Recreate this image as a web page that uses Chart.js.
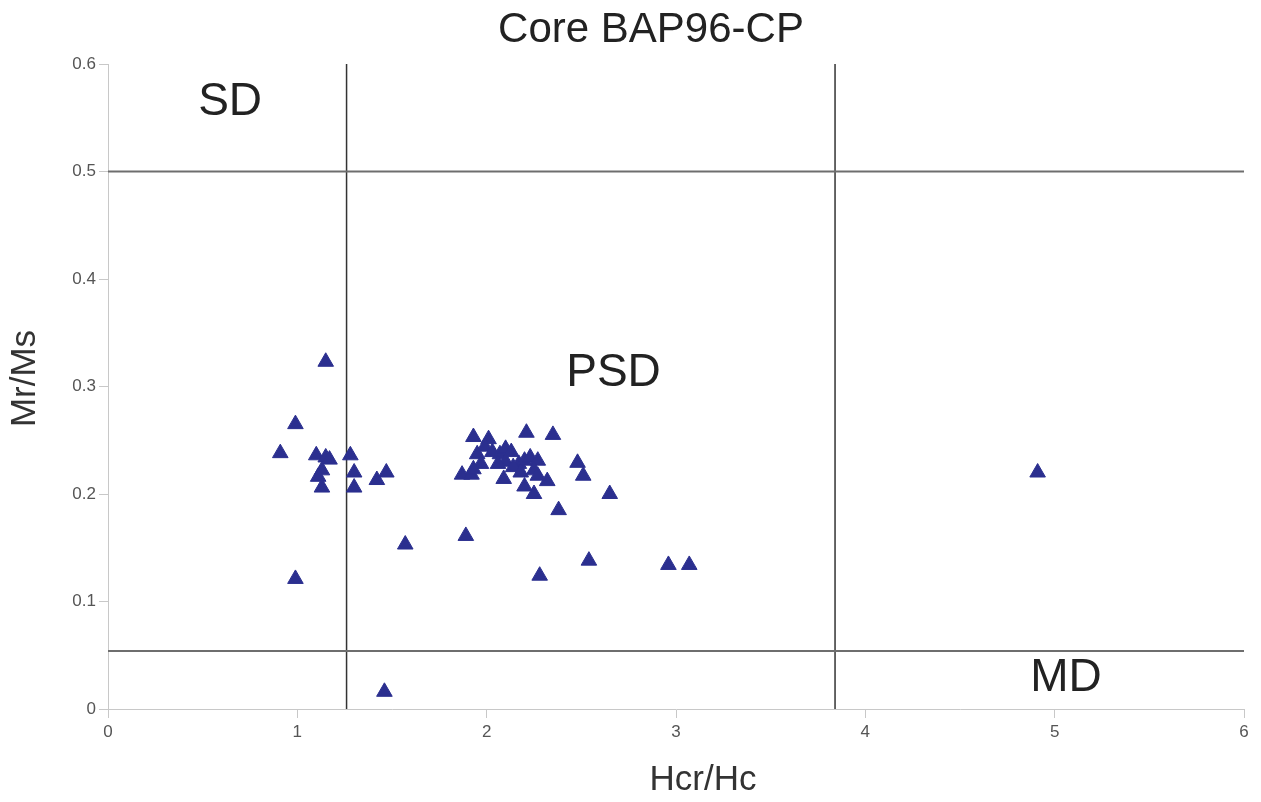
<!DOCTYPE html>
<html>
<head>
<meta charset="utf-8">
<script src="https://cdn.jsdelivr.net/npm/chart.js@4.4.1/dist/chart.umd.min.js"></script>
<style>
  html, body { margin: 0; padding: 0; background: #fff; }
  #wrap { width: 1261px; height: 802px; }
</style>
</head>
<body>
<div id="wrap"><canvas id="dayChart"></canvas></div>
<script>
// Day plot : Mr/Ms vs Hcr/Hc, domaines SD / PSD / MD.

const HCR_HC = [
    1.15, 0.99, 0.91, 1.10, 1.15, 1.17, 1.13, 1.11, 1.13, 1.28, 1.30, 1.30, 1.42, 1.47, 0.99, 1.57, 1.46,
    1.93, 2.01, 2.21, 2.35, 2.48, 2.51, 2.65, 2.38, 2.32, 2.25, 2.20, 1.87, 1.92, 2.09,
    1.99, 1.95, 2.03, 2.07, 2.10, 2.13, 2.10, 2.06, 1.97, 1.93, 2.17, 2.20, 2.23, 2.27, 2.25, 2.27, 2.14, 2.18,
    1.89, 2.28, 2.54, 2.96, 3.07, 4.91
];
const MR_MS = [
    0.323, 0.265, 0.238, 0.236, 0.234, 0.232, 0.222, 0.216, 0.206, 0.236, 0.220, 0.206, 0.213, 0.220, 0.121, 0.153, 0.016,
    0.253, 0.251, 0.257, 0.255, 0.229, 0.217, 0.200, 0.185, 0.212, 0.200, 0.207, 0.218, 0.218, 0.214,
    0.244, 0.237, 0.239, 0.237, 0.242, 0.239, 0.230, 0.228, 0.228, 0.223, 0.228, 0.231, 0.234, 0.231, 0.222, 0.217, 0.225, 0.220,
    0.161, 0.124, 0.138, 0.134, 0.134, 0.220
];

const X_RANGE = [0, 6];
const Y_RANGE = [0, 0.6];
const MRMS_LIMITS = [0.5, 0.054];   // lignes horizontales
const HCR_LIMITS = [1.26, 3.84];    // lignes verticales

const ZONE_LABELS = ['SD', 'PSD', 'MD'];
const ZONE_X = [0.645, 2.67, 5.06];
const ZONE_Y = [0.564, 0.312, 0.029];

const TITLE = 'Core BAP96-CP';
const FONT = "'Liberation Sans', Arial, sans-serif";

// Titre, libellés des domaines + titres d'axes (décalés comme dans l'original)
const annotations = {
    id: 'annotations',
    afterDatasetsDraw(chart) {
        const { ctx, chartArea, scales: { x, y } } = chart;
        const midX = (chartArea.left + chartArea.right) / 2;
        ctx.save();
        ctx.textAlign = 'center';
        ctx.textBaseline = 'middle';

        ctx.font = '42px ' + FONT;
        ctx.fillStyle = '#222';
        ctx.fillText(TITLE, midX - 25, 30);

        ctx.font = '46px ' + FONT;
        ZONE_LABELS.forEach((t, i) => ctx.fillText(t, x.getPixelForValue(ZONE_X[i]), y.getPixelForValue(ZONE_Y[i])));

        ctx.font = '35px ' + FONT;
        ctx.fillStyle = '#333';
        ctx.fillText('Hcr/Hc', midX + 27, chartArea.bottom + 71);
        ctx.translate(25, (chartArea.top + chartArea.bottom) / 2 - 8);
        ctx.rotate(-Math.PI / 2);
        ctx.fillText('Mr/Ms', 0, 0);
        ctx.restore();
    }
};

const limitSets = [
    ...MRMS_LIMITS.map(v => ({
        type: 'line', data: [{ x: X_RANGE[0], y: v }, { x: X_RANGE[1], y: v }],
        borderColor: '#6e6e6e', borderWidth: 2, pointRadius: 0, fill: false
    })),
    ...HCR_LIMITS.map(v => ({
        type: 'line', data: [{ x: v, y: Y_RANGE[0] }, { x: v, y: Y_RANGE[1] }],
        borderColor: '#333', borderWidth: 1.5, pointRadius: 0, fill: false
    }))
];

new Chart(document.getElementById('dayChart').getContext('2d'), {
    type: 'scatter',
    data: {
        datasets: [
            { label: 'BAP96-CP', data: HCR_HC.map((v, i) => ({ x: v, y: MR_MS[i] })),
              pointStyle: 'triangle', pointRadius: 9, pointHoverRadius: 9,
              backgroundColor: '#2b2f8f', borderColor: '#2b2f8f', borderWidth: 1 },
            ...limitSets
        ]
    },
    plugins: [annotations],
    options: {
        responsive: true, maintainAspectRatio: false, animation: false,
        layout: { padding: { top: 64, right: 17, left: 0, bottom: 0 } },
        plugins: {
            legend: { display: false },
            tooltip: { enabled: false },
            title: { display: false }
        },
        scales: {
            x: {
                type: 'linear', min: X_RANGE[0], max: X_RANGE[1],
                ticks: { stepSize: 1, color: '#555', font: { family: FONT, size: 17 }, padding: 4 },
                grid: { drawOnChartArea: false, drawTicks: true, tickLength: 9, color: '#c8c8c8' },
                border: { color: '#c8c8c8' },
                afterFit: s => { s.height = 93; }
            },
            y: {
                type: 'linear', min: Y_RANGE[0], max: Y_RANGE[1],
                ticks: { stepSize: 0.1, color: '#555', font: { family: FONT, size: 17 }, padding: 3 },
                grid: { drawOnChartArea: false, drawTicks: true, tickLength: 9, color: '#c8c8c8' },
                border: { color: '#c8c8c8' },
                afterFit: s => { s.width = 108; }
            }
        }
    }
});
</script>
</body>
</html>
